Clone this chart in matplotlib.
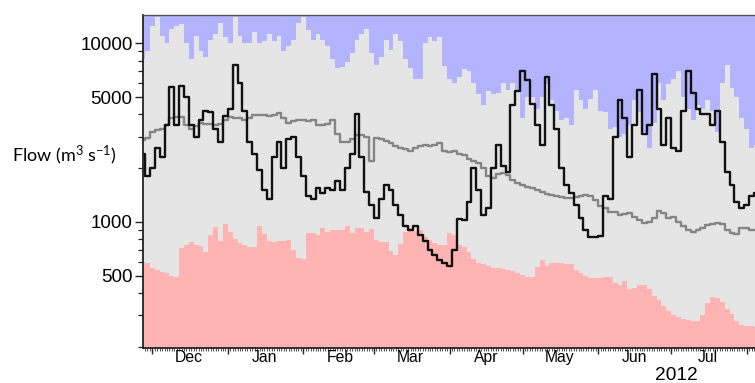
## River flow at a gauge, Dec 2011 - Jul 2012, with the normal range shaded ##
import numpy as np
import pandas as pd
import matplotlib
matplotlib.use('Agg')
from matplotlib import pyplot as plt
import matplotlib.dates as mdates
from matplotlib.ticker import FixedLocator, LogLocator, NullFormatter, FuncFormatter

plt.rcParams['font.family'] = ['Liberation Sans', 'DejaVu Sans']
plt.rcParams['mathtext.fontset'] = 'custom'
plt.rcParams['mathtext.rm'] = 'Lato'
plt.rcParams['mathtext.it'] = 'Lato:italic'

## one value every second day, starting 27 Nov 2011
dates = pd.date_range('2011-11-27', periods=127, freq='2D')

## observed flow (black)
flow = [2400, 1800, 2000, 2600, 2300, 3500, 5700, 3500, 5800, 5000,
        3500, 3000, 3700, 4200, 4100, 3300, 2800, 3900, 4300, 7600,
        6000, 4200, 2800, 2400, 1950, 1500, 1350, 2300, 2800, 2000,
        2900, 3000, 2300, 1800, 1400, 1350, 1550, 1450, 1550, 1500,
        1700, 1500, 2000, 2400, 4000, 2300, 1480, 1250, 1050, 1350,
        1600, 1500, 1250, 1100, 950, 900, 945, 850, 780, 700,
        650, 613, 590, 565, 700, 1040, 1020, 1300, 2000, 1500,
        1100, 1200, 2000, 2700, 2050, 1900, 4500, 5400, 7000, 6200,
        4600, 3500, 2700, 6500, 4500, 3300, 2000, 1620, 1450, 1250,
        1050, 900, 820, 820, 830, 1400, 1350, 3000, 4800, 3800,
        2300, 3500, 5500, 3100, 3500, 6700, 4300, 2700, 3800, 2600,
        2500, 4200, 7000, 5300, 4300, 4000, 4000, 3500, 4200, 2800,
        1900, 1600, 1300, 1200, 1250, 1400, 1450]

## median flow (grey line)
median = [2870, 2950, 3200, 3250, 3300, 3500, 3800, 3850, 3850, 3500,
          3300, 3450, 3600, 3550, 3550, 3500, 3550, 3700, 3850, 3800,
          3800, 3700, 3800, 3950, 3950, 3950, 3900, 3950, 4050, 3800,
          3600, 3650, 3700, 3700, 3650, 3700, 3500, 3500, 3550, 3700,
          3100, 2800, 2800, 2900, 3050, 3050, 3000, 2200, 2950, 2900,
          2850, 2750, 2650, 2600, 2550, 2500, 2600, 2650, 2700, 2650,
          2700, 2750, 2500, 2450, 2480, 2400, 2380, 2250, 2200, 2150,
          2000, 1800, 1770, 1850, 1880, 1830, 1720, 1650, 1620, 1560,
          1540, 1500, 1480, 1440, 1420, 1390, 1380, 1370, 1360, 1380,
          1400, 1420, 1400, 1320, 1230, 1190, 1140, 1130, 1100, 1110,
          1120, 1060, 1030, 990, 1000, 1050, 1150, 1120, 1050, 1060,
          1000, 950, 900, 880, 900, 920, 960, 980, 990, 970,
          900, 870, 860, 930, 920, 900, 900]

## top of the normal range (above it: blue)
upper = [8200, 9000, 12500, 14000, 11000, 10000, 12000, 12500, 12800, 10000,
         8200, 11000, 9000, 8400, 10500, 11300, 13000, 10800, 10000, 14000,
         11000, 10000, 10000, 11500, 10000, 10300, 11300, 10300, 11000, 9100,
         9600, 10500, 13000, 14000, 11800, 10500, 11300, 10500, 9600, 8200,
         7300, 7400, 7900, 8800, 10500, 11300, 12000, 8800, 7600, 8400,
         10500, 9200, 11300, 10300, 8200, 7300, 6300, 6300, 10000, 10800,
         10300, 10800, 7500, 6300, 6000, 6500, 7200, 7000, 6000, 5200,
         4500, 5400, 5200, 5300, 6000, 5500, 6000, 5500, 3800, 5000,
         5000, 4300, 5000, 5900, 4800, 4200, 3700, 3800, 3500, 5500,
         4800, 4300, 4900, 5500, 4200, 4100, 3300, 3400, 3000, 3100,
         3500, 4800, 4100, 3200, 2600, 3600, 6000, 4800, 5900, 6300,
         7000, 5000, 4300, 3700, 4500, 4300, 4800, 4200, 3200, 6000,
         7600, 5600, 5000, 3800, 3300, 2600, 2700]

## bottom of the normal range (below it: pink)
lower = [600, 590, 550, 535, 527, 520, 500, 490, 715, 744,
         776, 740, 730, 683, 850, 940, 780, 980, 880, 800,
         760, 740, 720, 720, 950, 860, 780, 770, 780, 780,
         790, 700, 630, 620, 865, 870, 850, 930, 880, 905,
         905, 900, 955, 870, 920, 920, 875, 910, 790, 775,
         770, 690, 655, 750, 880, 920, 885, 900, 820, 795,
         765, 745, 740, 870, 850, 740, 720, 680, 620, 590,
         580, 565, 555, 550, 545, 540, 530, 515, 505, 495,
         494, 560, 613, 570, 590, 590, 588, 585, 580, 540,
         520, 500, 485, 485, 485, 490, 490, 455, 445, 470,
         420, 425, 445, 445, 420, 385, 368, 340, 317, 302,
         295, 287, 283, 279, 279, 300, 350, 382, 375, 355,
         326, 307, 280, 265, 261, 261, 258]

months = ['Dec', 'Jan', 'Feb', 'Mar', 'Apr', 'May', 'Jun', 'Jul']
month_starts = pd.date_range('2011-12-01', periods=len(months), freq='MS')

fig = plt.figure(figsize=(7.55, 3.83), dpi=100)
ax = fig.add_axes([143/755, 1-348/383, 1-143/755, 333/383])

ax.set_facecolor('#e5e5e5')
ax.fill_between(dates, upper, 1e6, step='mid', color='#b3b3ff', lw=0)
ax.fill_between(dates, 1, lower, step='mid', color='#ffb3b3', lw=0)
ax.plot(dates, median, drawstyle='steps-mid', color='#858585', lw=1.7)
ax.plot(dates, flow, drawstyle='steps-mid', color='#111111', lw=1.7)

ax.set_yscale('log')
ax.set_ylim(197, 14400)
ax.set_xlim(pd.Timestamp('2011-11-27 04:00'), pd.Timestamp('2012-08-04 10:00'))

## y ticks
ax.yaxis.set_major_locator(FixedLocator([500, 1000, 5000, 10000]))
ax.yaxis.set_major_formatter(FuncFormatter(lambda v, p: '%d' % v))
ax.yaxis.set_minor_locator(LogLocator(base=10, subs=np.arange(1, 10)))
ax.yaxis.set_minor_formatter(NullFormatter())
ax.tick_params(axis='y', which='major', length=6, width=1, pad=1.5, labelsize=13.5, color='#222222')
ax.tick_params(axis='y', which='minor', length=3.5, width=0.9, color='#222222')

## x ticks: month boundaries + daily minor ticks, labels mid-month
ax.xaxis.set_major_locator(mdates.MonthLocator())
ax.xaxis.set_minor_locator(mdates.DayLocator())
ax.xaxis.set_major_formatter(NullFormatter())
ax.xaxis.set_minor_formatter(NullFormatter())
ax.tick_params(axis='x', which='major', length=4.5, width=1, color='#222222')
ax.tick_params(axis='x', which='minor', length=1.8, width=0.6, color='#333333')

for m, start in zip(months, month_starts):
    ax.text(start + pd.Timedelta(days=15), -0.03, m, transform=ax.get_xaxis_transform(),
            ha='center', va='center', fontsize=11.3)

fig.text(676/755, 1-375/383, '2012', ha='center', va='center', fontsize=13.8)
fig.text(12/755, 1-155/383, r'Flow (m$^3$ s$^{-1}$)', ha='left', va='center',
         fontsize=13, family='Lato')

ax.spines['right'].set_visible(False)
ax.spines['top'].set_color('#555555')
ax.spines['top'].set_linewidth(1.0)
for s in ['left', 'bottom']:
    ax.spines[s].set_color('#222222')
    ax.spines[s].set_linewidth(1.3)

fig.savefig('out.png', dpi=100)
